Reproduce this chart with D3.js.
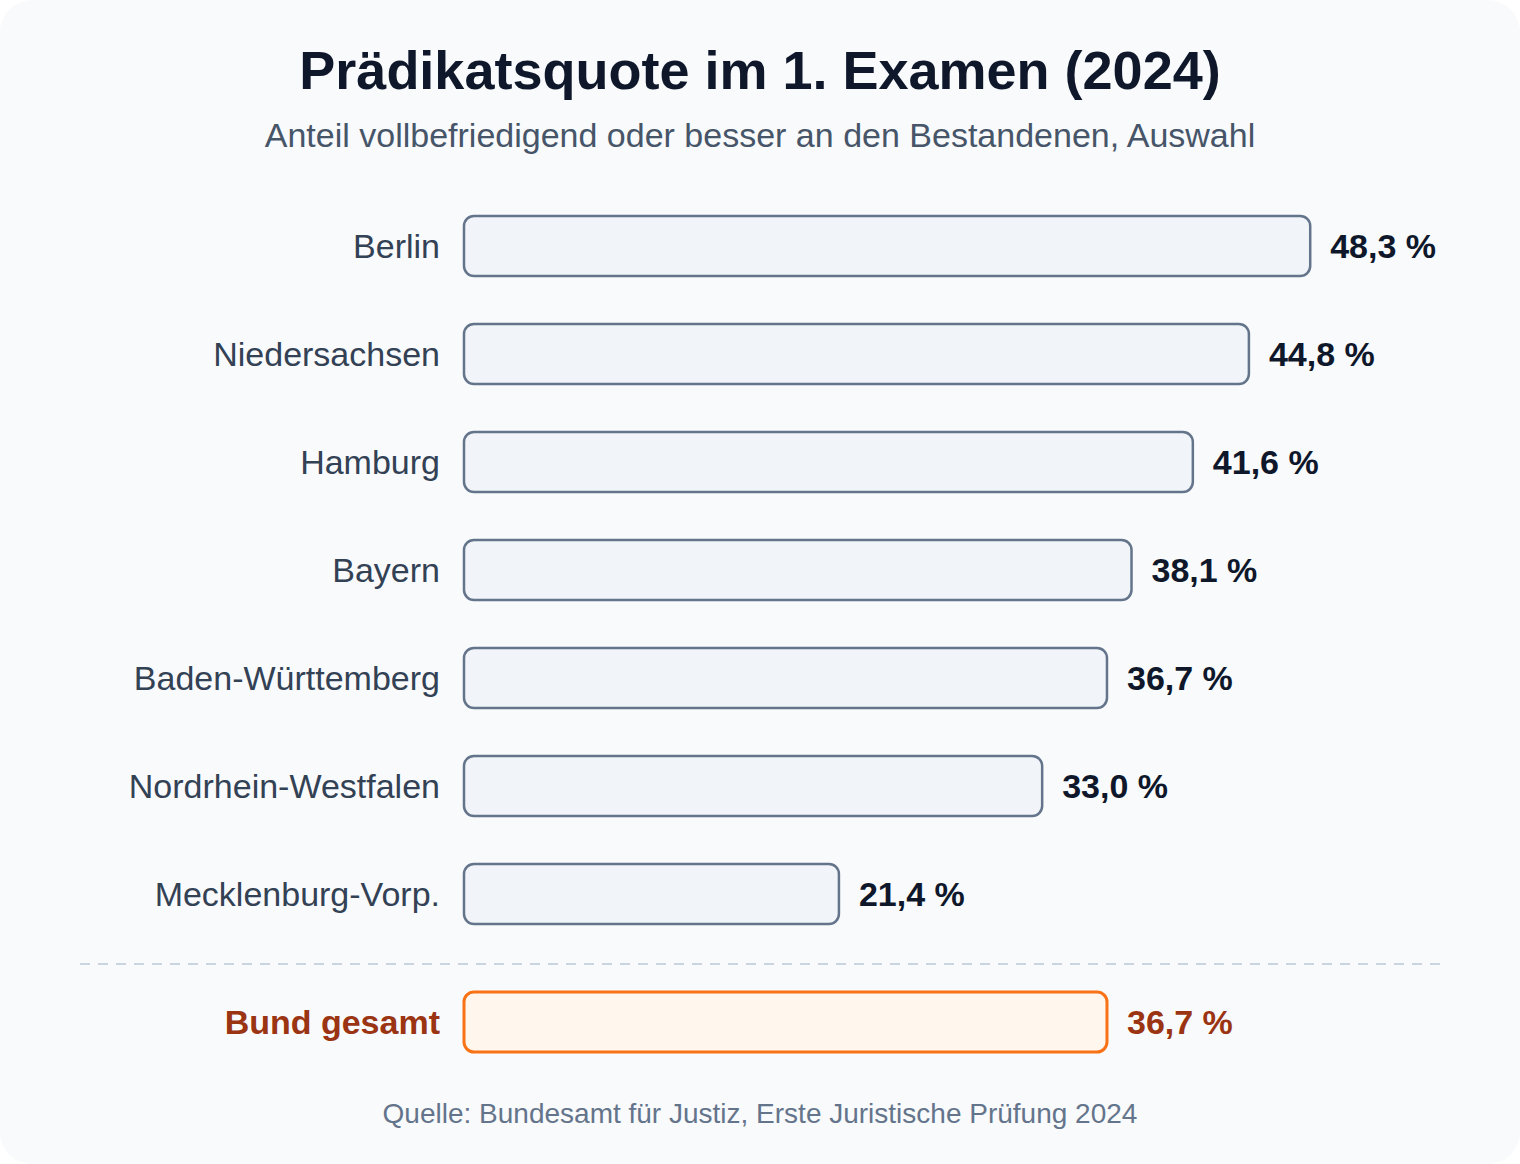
<!DOCTYPE html>
<html>
<head>
<meta charset="utf-8">
<script src="https://cdn.jsdelivr.net/npm/d3@7"></script>
<style>
	html, body { margin: 0; padding: 0; background: #ffffff; }
	body { font-family: "Liberation Sans", Arial, sans-serif; }
</style>
</head>
<body>
<div id="chart"></div>
<script>
// data
var regions = ["Berlin", "Niedersachsen", "Hamburg", "Bayern", "Baden-Württemberg", "Nordrhein-Westfalen", "Mecklenburg-Vorp."];
var quotes = [48.3, 44.8, 41.6, 38.1, 36.7, 33.0, 21.4];
var totalLabel = "Bund gesamt";
var totalQuote = 36.7;

var width = 1520;
var height = 1164;

var svg = d3.select("#chart")
	.append("svg")
	.attr("width", width)
	.attr("height", height);

// card
svg.append("rect")
	.attr("x", 0)
	.attr("y", 0)
	.attr("width", width)
	.attr("height", height)
	.attr("rx", 32)
	.attr("fill", "#f8fafc");

// titles
svg.append("text")
	.attr("x", width / 2)
	.attr("y", 89)
	.attr("text-anchor", "middle")
	.attr("font-size", 54)
	.attr("font-weight", "bold")
	.attr("fill", "#0f172a")
	.text("Prädikatsquote im 1. Examen (2024)");

svg.append("text")
	.attr("x", width / 2)
	.attr("y", 147)
	.attr("text-anchor", "middle")
	.attr("font-size", 34)
	.attr("fill", "#475569")
	.text("Anteil vollbefriedigend oder besser an den Bestandenen, Auswahl");

// scales
var x = d3.scaleLinear()
	.domain([0, 50])
	.range([464, 1340]);

var y = d3.scaleBand()
	.domain(regions)
	.range([192, 948])
	.paddingInner(0.444)
	.paddingOuter(0.222);

var barHeight = 60;

function numberFormat (v) {
	return d3.format(".1f")(v).replace(".", ",") + " %";
}

var rows = svg.selectAll(".row")
	.data(regions.map(function (r, i) { return { name: r, value: quotes[i] }; }))
	.enter()
	.append("g")
	.classed("row", true)
	.attr("transform", function (d) { return "translate(0," + (y(d.name) + y.bandwidth() / 2) + ")"; });

rows.append("rect")
	.attr("x", x(0))
	.attr("y", -barHeight / 2)
	.attr("width", function (d) { return x(d.value) - x(0); })
	.attr("height", barHeight)
	.attr("rx", 10)
	.attr("fill", "#f1f5f9")
	.attr("stroke", "#64748b")
	.attr("stroke-width", 2.5);

rows.append("text")
	.attr("x", 440)
	.attr("y", 0)
	.attr("dy", "0.35em")
	.attr("text-anchor", "end")
	.attr("font-size", 34)
	.attr("fill", "#334155")
	.text(function (d) { return d.name; });

rows.append("text")
	.attr("x", function (d) { return x(d.value) + 20; })
	.attr("y", 0)
	.attr("dy", "0.35em")
	.attr("font-size", 34)
	.attr("font-weight", "bold")
	.attr("fill", "#0f172a")
	.text(function (d) { return numberFormat(d.value); });

// divider
svg.append("line")
	.attr("x1", 80)
	.attr("x2", 1440)
	.attr("y1", 964)
	.attr("y2", 964)
	.attr("stroke", "#cbd5e1")
	.attr("stroke-width", 2)
	.attr("stroke-dasharray", "10,8");

// total row
var total = svg.append("g")
	.attr("transform", "translate(0,1022)");

total.append("rect")
	.attr("x", x(0))
	.attr("y", -barHeight / 2)
	.attr("width", x(totalQuote) - x(0))
	.attr("height", barHeight)
	.attr("rx", 10)
	.attr("fill", "#fff7ed")
	.attr("stroke", "#f97316")
	.attr("stroke-width", 3);

total.append("text")
	.attr("x", 440)
	.attr("dy", "0.35em")
	.attr("text-anchor", "end")
	.attr("font-size", 34)
	.attr("font-weight", "bold")
	.attr("fill", "#9a3412")
	.text(totalLabel);

total.append("text")
	.attr("x", x(totalQuote) + 20)
	.attr("dy", "0.35em")
	.attr("font-size", 34)
	.attr("font-weight", "bold")
	.attr("fill", "#9a3412")
	.text(numberFormat(totalQuote));

// source
svg.append("text")
	.attr("x", width / 2)
	.attr("y", 1123)
	.attr("text-anchor", "middle")
	.attr("font-size", 28)
	.attr("fill", "#64748b")
	.text("Quelle: Bundesamt für Justiz, Erste Juristische Prüfung 2024");
</script>
</body>
</html>
